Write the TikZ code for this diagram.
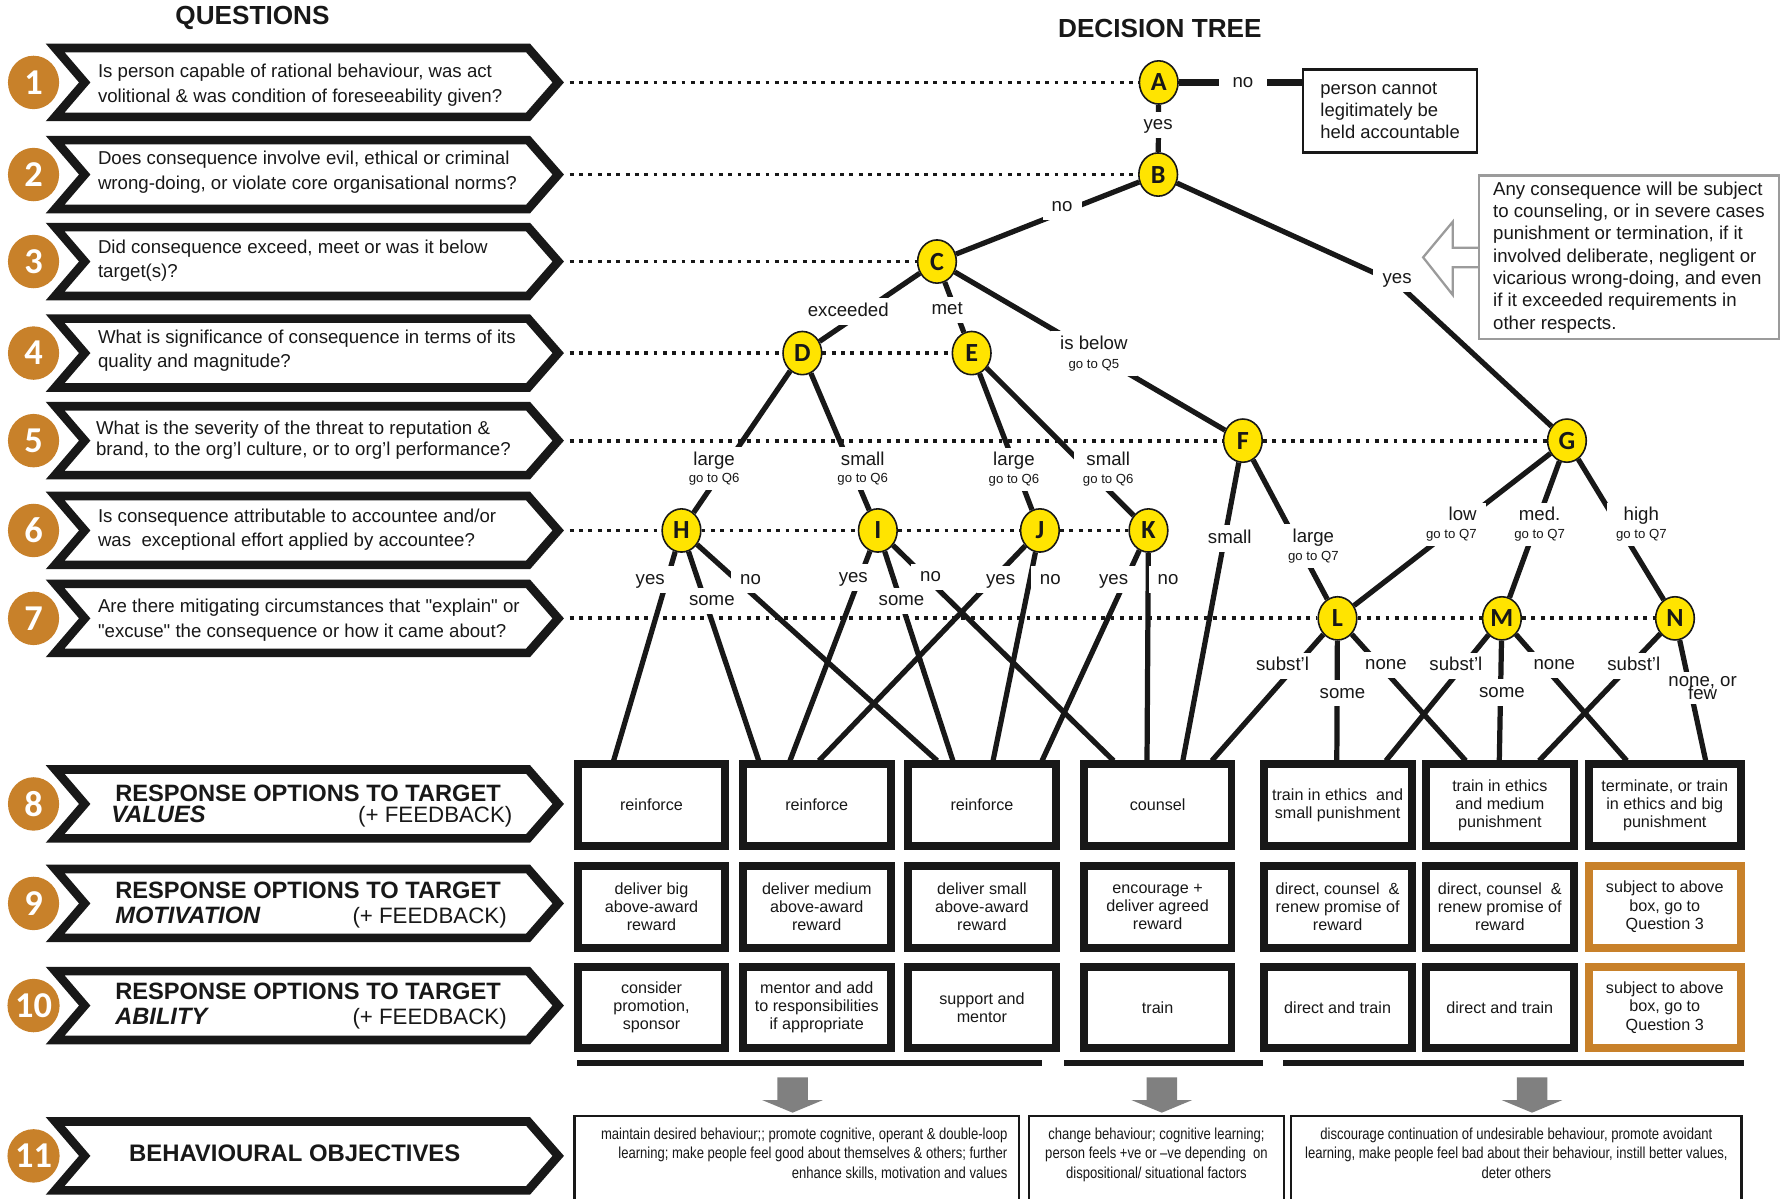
\documentclass[tikz,border=0pt]{standalone}
\usepackage{fontspec}
\setmainfont{Liberation Sans}[Ligatures=TeXOff]
\newfontfamily\calib{Carlito}
\newfontfamily\narrowf{Liberation Sans}[FakeStretch=0.82]
\usetikzlibrary{calc,shapes.geometric}
\definecolor{ochre}{RGB}{200,129,42}
\definecolor{nodeyellow}{RGB}{255,228,0}
\definecolor{ink}{RGB}{24,24,24}
\definecolor{arrowgray}{RGB}{128,128,128}
\definecolor{framegray}{RGB}{155,155,155}
\tikzset{
  chev/.style={draw=ink,line width=3.8pt,line join=miter,fill=white},
  numcirc/.style={ellipse,fill=ochre,minimum width=22.5pt,minimum height=23.5pt,inner sep=0pt,text=white,font=\calib\bfseries\fontsize{16}{16}\selectfont},
  qtext/.style={anchor=west,align=left,inner sep=0pt,text=ink,font=\fontsize{8.2}{10.75}\selectfont},
  rhead/.style={inner sep=0pt,text=ink,text height=7.3pt,text depth=0pt},
  title/.style={inner sep=0pt,text=ink,font=\bfseries\fontsize{11.5}{12}\selectfont},
  dec/.style={ellipse,draw=ink,line width=0.7pt,fill=nodeyellow,minimum width=17pt,minimum height=19pt,inner sep=0pt,text=ink,font=\calib\bfseries\fontsize{11.5}{11.5}\selectfont},
  branch/.style={draw=ink,line width=2.3pt},
  qdots/.style={draw=ink,line width=1.7pt,dash pattern=on 1.7pt off 2.4pt},
  lbl/.style={fill=white,inner xsep=4pt,inner ysep=2pt,text=ink,font=\fontsize{8.2}{9}\selectfont,text height=5.9pt,text depth=1.7pt},
  lbltwo/.style={fill=white,inner xsep=4pt,inner ysep=2pt,text=ink,align=center,font=\fontsize{8.2}{7.75}\selectfont},
  resp/.style={draw=ink,line width=3.5pt,fill=white,minimum width=65pt,minimum height=36pt,inner sep=0pt,align=center,text=ink,font=\fontsize{7.1}{8}\selectfont},
  objbox/.style={draw=ink,line width=1pt,anchor=north west,minimum height=44pt,inner sep=0pt},
  objtext/.style={inner sep=0pt,text=ink,font=\narrowf\fontsize{7}{8.45}\selectfont},
  grayarrow/.style={fill=arrowgray},
}
\newcommand{\gonote}[1]{{\fontsize{5.8}{6}\selectfont #1}}
\begin{document}
\begin{tikzpicture}[x=0.5pt,y=-0.5pt]
\useasboundingbox (0,0) rectangle (1568,1054);
\fill[white] (0,0) rectangle (1568,1054);

% titles
\node[title] (tq) at (222,15.5) {QUESTIONS};
\node[title] (tt) at (1020,25) {DECISION TREE};

% question chevrons and numbers
\foreach \cy/\k in {72.5/1,153.5/2,230/3,310.5/4,387.5/5,466.5/6,543.8/7,707/8,794.5/9,884.3/10,1016.5/11}{
  \draw[chev] (48.5,\cy-30.3) -- (464.4,\cy-30.3) -- (490.9,\cy) -- (464.4,\cy+30.3) -- (48.5,\cy+30.3) -- (74.5,\cy) -- cycle;
  \node[numcirc] (num\k) at (29.5,\cy) {\k};
}

% question texts
\node[qtext] (q1) at (85.8,75) {Is person capable of rational behaviour, was act\\volitional \& was condition of foreseeability given?};
\node[qtext] (q2) at (85.8,151.6) {Does consequence involve evil, ethical or criminal\\wrong-doing, or violate core organisational norms?};
\node[qtext] (q3) at (85.8,229.2) {Did consequence exceed, meet or was it below\\target(s)?};
\node[qtext] (q4) at (85.8,308.3) {What is significance of consequence in terms of its\\quality and magnitude?};
\node[qtext,font=\fontsize{8.2}{9.25}\selectfont] (q5) at (84.1,387) {What is the severity of the threat to reputation \&\\brand, to the org’l culture, or to org’l performance?};
\node[qtext] (q6) at (85.8,466) {Is consequence attributable to accountee and/or\\was\ \ exceptional effort applied by accountee?};
\node[qtext] (q7) at (85.8,545.5) {Are there mitigating circumstances that "explain" or\\"excuse" the consequence or how it came about?};

\node[rhead,anchor=west,font=\bfseries\fontsize{10.4}{12}\selectfont] (r8a) at (101,697.2) {RESPONSE OPTIONS TO TARGET};
\node[rhead,anchor=west,font=\bfseries\itshape\fontsize{10.4}{12}\selectfont] (r8b) at (97.6,716) {VALUES};
\node[rhead,anchor=east,font=\fontsize{9.8}{12}\selectfont] (r8c) at (451,716) {(+ FEEDBACK)};
\node[rhead,anchor=west,font=\bfseries\fontsize{10.4}{12}\selectfont] (r9a) at (101,782.7) {RESPONSE OPTIONS TO TARGET};
\node[rhead,anchor=west,font=\bfseries\itshape\fontsize{10.4}{12}\selectfont] (r9b) at (101,804.7) {MOTIVATION};
\node[rhead,anchor=east,font=\fontsize{9.8}{12}\selectfont] (r9c) at (446,804.7) {(+ FEEDBACK)};
\node[rhead,anchor=west,font=\bfseries\fontsize{10.4}{12}\selectfont] (r10a) at (101,872) {RESPONSE OPTIONS TO TARGET};
\node[rhead,anchor=west,font=\bfseries\itshape\fontsize{10.4}{12}\selectfont] (r10b) at (101,894) {ABILITY};
\node[rhead,anchor=east,font=\fontsize{9.8}{12}\selectfont] (r10c) at (446,894) {(+ FEEDBACK)};
\node[rhead,font=\bfseries\fontsize{10.5}{12}\selectfont] (r11) at (259.2,1014.3) {BEHAVIOURAL OBJECTIVES};

% decision nodes
\node[dec] (nA) at (1019,72.5) {A};
\node[dec] (nB) at (1018.5,153.5) {B};
\node[dec] (nC) at (824,230) {C};
\node[dec] (nD) at (705.6,310.5) {D};
\node[dec] (nE) at (854.5,310.5) {E};
\node[dec] (nF) at (1093,387.5) {F};
\node[dec] (nG) at (1378,387.5) {G};
\node[dec] (nH) at (599.3,466.5) {H};
\node[dec] (nI) at (772,466.5) {I};
\node[dec] (nJ) at (914.5,466.5) {J};
\node[dec] (nK) at (1010,466.5) {K};
\node[dec] (nL) at (1176.2,543.8) {L};
\node[dec] (nM) at (1320.8,543.8) {M};
\node[dec] (nN) at (1473,543.8) {N};

% side boxes
\node[draw=ink,line width=1.1pt,fill=white,align=left,minimum width=76.5pt,minimum height=36.5pt,inner sep=0pt,text=ink,font=\fontsize{8.1}{9.75}\selectfont] (nobox) at (1222.5,97.5) {person cannot\\legitimately be\\held accountable};
\fill[white] (1300,217.8) -- (1277.6,217.8) -- (1277.6,195) -- (1251.5,226.3) -- (1277.6,259.4) -- (1277.6,235) -- (1300,235) -- cycle;
\draw[framegray,line width=1pt,line join=miter] (1300,217.8) -- (1277.6,217.8) -- (1277.6,195) -- (1251.5,226.3) -- (1277.6,259.4) -- (1277.6,235) -- (1300,235);
\node[draw=framegray,line width=1.1pt,fill=white,align=left,minimum width=132pt,minimum height=72pt,inner sep=0pt,text=ink,font=\fontsize{8.2}{9.8}\selectfont] (note) at (1432.5,226.3) {Any consequence will be subject\\to counseling, or in severe cases\\punishment or termination, if it\\involved deliberate, negligent or\\vicarious wrong-doing, and even\\if it exceeded requirements in\\other respects.};

% dotted guide lines
\coordinate (d1) at (501,72.5);
\coordinate (d2) at (501,153.5);
\coordinate (d3) at (501,230);
\coordinate (d4) at (501,310.5);
\coordinate (d5) at (501,387.5);
\coordinate (d6) at (501,466.5);
\coordinate (d7) at (501,543.8);
\draw[qdots] (d1) -- (nA);
\draw[qdots] (d2) -- (nB);
\draw[qdots] (d3) -- (nC);
\draw[qdots] (d4) -- (nD);
\draw[qdots] (nD) -- (nE);
\draw[qdots] (d5) -- (nF);
\draw[qdots] (nF) -- (nG);
\draw[qdots] (d6) -- (nH);
\draw[qdots] (nH) -- (nI);
\draw[qdots] (nI) -- (nJ);
\draw[qdots] (nJ) -- (nK);
\draw[qdots] (d7) -- (nL);
\draw[qdots] (nL) -- (nM);
\draw[qdots] (nM) -- (nN);

% response boxes
\node[resp] (v1) at (572.95,708) {reinforce};
\node[resp] (v2) at (718.25,708) {reinforce};
\node[resp] (v3) at (863.5,708) {reinforce};
\node[resp] (v4) at (1018,708) {counsel};
\node[resp] (v5) at (1176.3,708) {train in ethics\ \ and\\small punishment};
\node[resp] (v6) at (1318.95,708) {train in ethics\\and medium\\punishment};
\node[resp,minimum width=66.8pt] (v7) at (1464,708) {terminate, or train\\in ethics and big\\punishment};
\node[resp] (m1) at (572.95,797.4) {deliver big\\above-award\\reward};
\node[resp] (m2) at (718.25,797.4) {deliver medium\\above-award\\reward};
\node[resp] (m3) at (863.5,797.4) {deliver small\\above-award\\reward};
\node[resp] (m4) at (1018,797.4) {encourage +\\deliver agreed\\reward};
\node[resp] (m5) at (1176.3,797.4) {direct, counsel\ \ \&\\renew promise of\\reward};
\node[resp] (m6) at (1318.95,797.4) {direct, counsel\ \ \&\\renew promise of\\reward};
\node[resp,draw=ochre,minimum width=66.8pt] (m7) at (1464,797.4) {subject to above\\box, go to\\Question 3};
\node[resp] (a1) at (572.95,886) {consider\\promotion,\\sponsor};
\node[resp] (a2) at (718.25,886) {mentor and add\\to responsibilities\\if appropriate};
\node[resp] (a3) at (863.5,886) {support and\\mentor};
\node[resp] (a4) at (1018,886) {train};
\node[resp] (a5) at (1176.3,886) {direct and train};
\node[resp] (a6) at (1318.95,886) {direct and train};
\node[resp,draw=ochre,minimum width=66.8pt] (a7) at (1464,886) {subject to above\\box, go to\\Question 3};

% box-top ends of branches
\coordinate (tHy) at (539.6,669);
\coordinate (tHs) at (667.2,669);
\coordinate (tHn) at (824.2,669);
\coordinate (tIy) at (694.7,669);
\coordinate (tIs) at (838,669);
\coordinate (tIn) at (979.3,669);
\coordinate (tJy) at (720.2,669);
\coordinate (tJn) at (873.3,669);
\coordinate (tKy) at (916.4,669);
\coordinate (tKn) at (1008.7,669);
\coordinate (tFs) at (1040.2,669);
\coordinate (tLs) at (1065.7,669);
\coordinate (tLo) at (1175.6,669);
\coordinate (tLn) at (1289,669);
\coordinate (tMs) at (1218.8,669);
\coordinate (tMo) at (1318.5,669);
\coordinate (tMn) at (1430.6,669);
\coordinate (tNs) at (1353.5,669);
\coordinate (tNn) at (1500,669);
\coordinate (bendBG) at (1228.6,249);

% branches
\draw[branch] (nA) -- (nB);
\draw[branch,line width=3.2pt] (nA) -- (nA -| nobox.west);
\draw[branch] (nB) -- (nC);
\draw[branch] (nB) -- (bendBG) -- (nG);
\draw[branch] (nC) -- (nD);
\draw[branch] (nC) -- (nE);
\draw[branch] (nC) -- (nF);
\draw[branch] (nD) -- (nH);
\draw[branch] (nD) -- (nI);
\draw[branch] (nE) -- (nJ);
\draw[branch] (nE) -- (nK);
\draw[branch] (nF) -- (tFs);
\draw[branch] (nF) -- (nL);
\draw[branch] (nG) -- (nL);
\draw[branch] (nG) -- (nM);
\draw[branch] (nG) -- (nN);
\draw[branch] (nH) -- (tHy);
\draw[branch] (nH) -- (tHs);
\draw[branch] (nH) -- (tHn);
\draw[branch] (nI) -- (tIy);
\draw[branch] (nI) -- (tIs);
\draw[branch] (nI) -- (tIn);
\draw[branch] (nJ) -- (tJy);
\draw[branch] (nJ) -- (tJn);
\draw[branch] (nK) -- (tKy);
\draw[branch] (nK) -- (tKn);
\draw[branch] (nL) -- (tLs);
\draw[branch] (nL) -- (tLo);
\draw[branch] (nL) -- (tLn);
\draw[branch] (nM) -- (tMs);
\draw[branch] (nM) -- (tMo);
\draw[branch] (nM) -- (tMn);
\draw[branch] (nN) -- (tNs);
\draw[branch] (nN) -- (tNn);

% branch labels
\node[lbl] (lAB) at (1018.5,110) {yes};
\node[lbl,inner xsep=6pt] (lAno) at (1093,73) {no};
\node[lbl] (lBC) at (934,181.8) {no};
\node[lbl] (lBG) at (1228.6,244.8) {yes};
\node[lbl] (lCD) at (746,274) {exceeded};
\node[lbl] (lCE) at (833,272.6) {met};
\node[lbltwo,font=\fontsize{8.2}{8.5}\selectfont] (lCF) at (962,311) {is below\\\gonote{go to Q5}};
\node[lbltwo] (lDH) at (628,412.2) {large\\\gonote{go to Q6}};
\node[lbltwo] (lDI) at (758.7,412.2) {small\\\gonote{go to Q6}};
\node[lbltwo] (lEJ) at (891.7,412.8) {large\\\gonote{go to Q6}};
\node[lbltwo] (lEK) at (974.6,412.8) {small\\\gonote{go to Q6}};
\node[lbl] (lFs) at (1081.4,473.4) {small};
\node[lbltwo,font=\fontsize{8.2}{8}\selectfont] (lFL) at (1155,480) {large\\\gonote{go to Q7}};
\node[lbltwo,align=right,anchor=east] (lGL) at (1307,461) {low\\\gonote{go to Q7}};
\node[lbltwo] (lGM) at (1354,461) {med.\\\gonote{go to Q7}};
\node[lbltwo] (lGN) at (1443.4,461) {high\\\gonote{go to Q7}};
\node[lbl] (lHy) at (571.8,509.5) {yes};
\node[lbl] (lHs) at (626,528.3) {some};
\node[lbl] (lHn) at (660,509.5) {no};
\node[lbl] (lIy) at (750.4,507.7) {yes};
\node[lbl] (lIs) at (792.8,528.3) {some};
\node[lbl] (lIn) at (818.3,507.2) {no};
\node[lbl] (lJy) at (880,509.5) {yes};
\node[lbl] (lJn) at (923.6,509.5) {no};
\node[lbl] (lKy) at (979.3,509.5) {yes};
\node[lbl] (lKn) at (1027.2,509.5) {no};
\node[lbl] (lLs) at (1127.9,585.7) {subst’l};
\node[lbl] (lLo) at (1180.6,609.7) {some};
\node[lbl] (lLn) at (1218.8,584.8) {none};
\node[lbl] (lMs) at (1280.3,585.7) {subst’l};
\node[lbl] (lMo) at (1320.8,609.1) {some};
\node[lbl] (lMn) at (1366.9,584.8) {none};
\node[lbl] (lNs) at (1436.8,585.7) {subst’l};
\node[lbltwo,font=\fontsize{8.2}{9}\selectfont] (lNn) at (1497.3,605) {none, or\\[-3.6pt]few};

% grouping bars and arrows
\fill[ink] (507.5,932.2) rectangle (916.4,937.5);
\fill[ink] (935.4,932.2) rectangle (1110.9,937.5);
\fill[ink] (1127.9,932.2) rectangle (1533.3,937.5);
\foreach \ax in {697,1021.7,1347.3}{
  \fill[grayarrow] (\ax-13.4,947.4) -- (\ax+13.4,947.4) -- (\ax+13.4,967.4) -- (\ax+26.7,967.4) -- (\ax,978.5) -- (\ax-26.7,967.4) -- (\ax-13.4,967.4) -- cycle;
}

% behavioural objective boxes
\node[objbox,minimum width=195.25pt] (ob1) at (504.3,980.6) {};
\node[objbox,minimum width=112pt] (ob2) at (904,980.6) {};
\node[objbox,minimum width=198.05pt] (ob3) at (1134.5,980.6) {};
\node[objtext,anchor=north east,align=right] (ot1) at (886.3,991.6) {maintain desired behaviour;; promote cognitive, operant \& double-loop\\learning; make people feel good about themselves \& others; further\\enhance skills, motivation and values};
\node[objtext,anchor=north,align=center] (ot2) at (1017,991.6) {change behaviour; cognitive learning;\\person feels +ve or –ve depending\ \ on\\dispositional/ situational factors};
\node[objtext,anchor=north,align=center] (ot3) at (1333.5,991.6) {discourage continuation of undesirable behaviour, promote avoidant\\learning, make people feel bad about their behaviour, instill better values,\\deter others};
\end{tikzpicture}
\end{document}
